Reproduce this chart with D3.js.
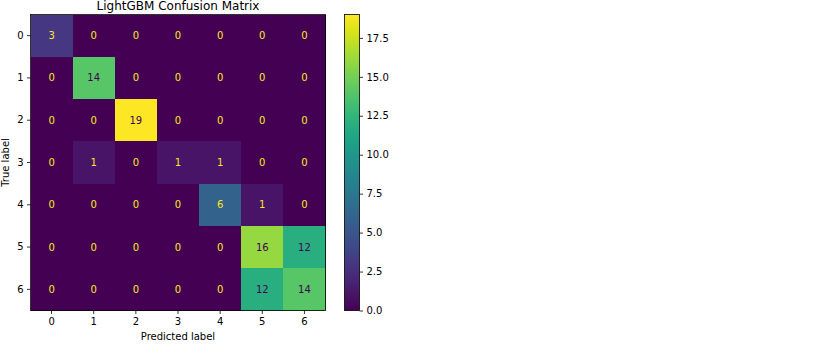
<!DOCTYPE html>
<html><head><meta charset="utf-8">
<script src="https://cdn.jsdelivr.net/npm/d3@7"></script>
<style>body{margin:0;background:#fff}svg{display:block;font-family:"DejaVu Sans",sans-serif}</style>
</head><body><svg id="c" width="822" height="356"></svg>
<script>
const labels = ["0","1","2","3","4","5","6"];
const matrix = [
  [3,0,0,0,0,0,0],
  [0,14,0,0,0,0,0],
  [0,0,19,0,0,0,0],
  [0,1,0,1,1,0,0],
  [0,0,0,0,6,1,0],
  [0,0,0,0,0,16,12],
  [0,0,0,0,0,12,14]
];
const cbTicks = [0,2.5,5,7.5,10,12.5,15,17.5];
const title = "LightGBM Confusion Matrix";

const svg = d3.select("#c");
const L=30.5,R=325.5,T=14.5,B=310.5;
const x = d3.scaleBand().domain(labels).range([L,R]);
const y = d3.scaleBand().domain(labels).range([T,B]);
const vmax = d3.max(matrix.flat()), vmin = d3.min(matrix.flat());
const color = d3.scaleSequential(d3.interpolateViridis).domain([vmin,vmax]);
const thresh=(vmax+vmin)/2;

const cells=[];
matrix.forEach((row,i)=>row.forEach((v,j)=>cells.push({r:labels[i],c:labels[j],v})));
svg.append("g").attr("shape-rendering","crispEdges").selectAll("rect").data(cells).join("rect")
  .attr("x",d=>x(d.c)).attr("y",d=>y(d.r))
  .attr("width",x.bandwidth()+0.6).attr("height",y.bandwidth()+0.6)
  .attr("fill",d=>color(d.v));
svg.append("g").selectAll("text").data(cells).join("text")
  .attr("x",d=>x(d.c)+x.bandwidth()/2).attr("y",d=>y(d.r)+y.bandwidth()/2)
  .attr("text-anchor","middle").attr("dominant-baseline","central")
  .attr("font-size",10).attr("fill",d=>d.v>thresh?color(vmin):color(vmax))
  .text(d=>d.v);
svg.append("rect").attr("x",L).attr("y",T).attr("width",R-L).attr("height",B-T)
  .attr("fill","none").attr("stroke","#000").attr("stroke-width",0.8);

const ax = svg.append("g").attr("transform",`translate(0,${B})`).call(d3.axisBottom(x).tickSize(3.5).tickPadding(3.5));
const ay = svg.append("g").attr("transform",`translate(${L},0)`).call(d3.axisLeft(y).tickSize(3.5).tickPadding(3.5));
[ax,ay].forEach(a=>{a.select(".domain").remove();a.selectAll("text").attr("font-size",10).attr("font-family","DejaVu Sans").attr("fill","#000");a.selectAll("line").attr("stroke","#000").attr("stroke-width",0.8);});

svg.append("text").attr("x",(L+R)/2).attr("y",10).attr("text-anchor","middle").attr("font-size",12).text(title);
svg.append("text").attr("x",(L+R)/2).attr("y",340).attr("text-anchor","middle").attr("font-size",10).text("Predicted label");
svg.append("text").attr("transform",`translate(9,${(T+B)/2}) rotate(-90)`).attr("text-anchor","middle").attr("font-size",10).text("True label");

// colorbar
const cL=344.5,cR=359.5;
const cy = d3.scaleLinear().domain([vmin,vmax]).range([B,T]);
const defs=svg.append("defs");
const grad=defs.append("linearGradient").attr("id","g").attr("x1",0).attr("y1",1).attr("x2",0).attr("y2",0);
d3.range(0,1.0001,0.05).forEach(t=>grad.append("stop").attr("offset",t).attr("stop-color",d3.interpolateViridis(t)));
svg.append("rect").attr("x",cL).attr("y",T).attr("width",cR-cL).attr("height",B-T).attr("fill","url(#g)").attr("stroke","#000").attr("stroke-width",0.8);
const ac = svg.append("g").attr("transform",`translate(${cR},0)`).call(d3.axisRight(cy).tickValues(cbTicks).tickFormat(d3.format(".1f")).tickSize(3.5).tickPadding(3.5));
ac.select(".domain").remove();
ac.selectAll("text").attr("font-size",10).attr("font-family","DejaVu Sans").attr("fill","#000");
ac.selectAll("line").attr("stroke","#000").attr("stroke-width",0.8);
</script></body></html>
